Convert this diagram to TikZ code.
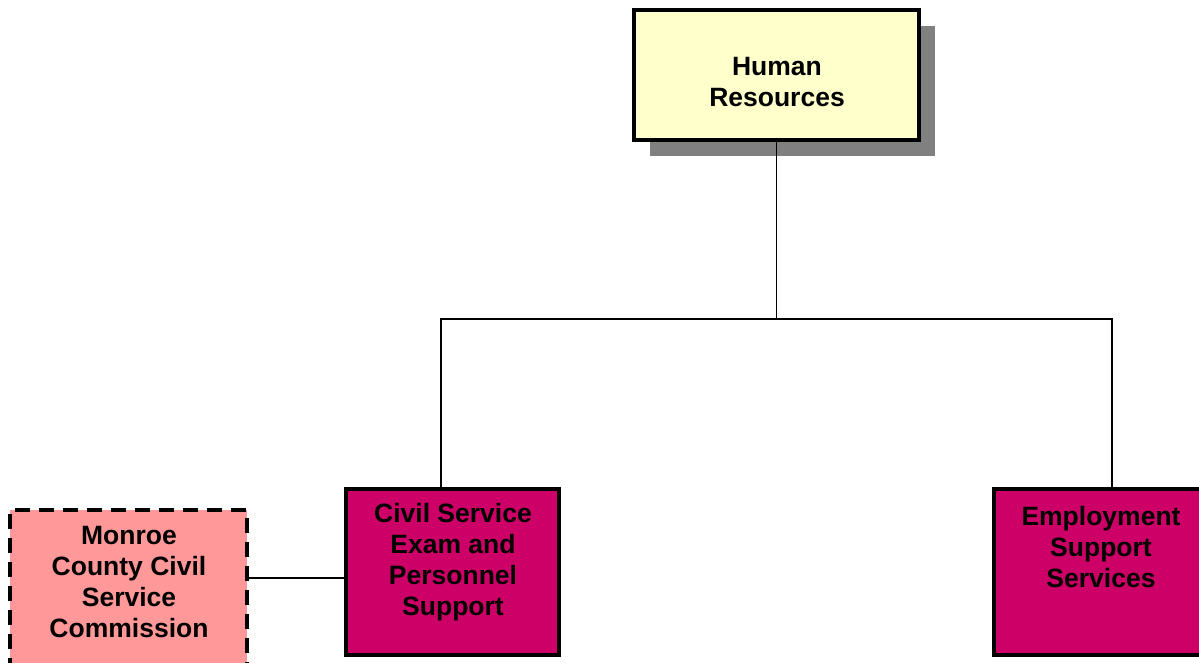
\documentclass[tikz,border=0pt]{standalone}
\usepackage{fontspec}
\setmainfont{Liberation Sans}
\usepackage{xcolor}
\usepackage{tikz}
\usetikzlibrary{positioning,shadows,calc}
\definecolor{hryellow}{HTML}{FFFFCC}
\definecolor{unitpink}{HTML}{CC0066}
\definecolor{boardpink}{HTML}{FF9999}
\definecolor{shadowgray}{HTML}{808080}
\tikzset{
  orgbox/.style={rectangle, draw=black, line width=4pt, inner sep=0pt, outer sep=0pt, anchor=north west},
  lbl/.style={align=center, inner sep=0pt, font=\bfseries\fontsize{26.5}{31}\selectfont},
  link/.style={line width=1.5pt, draw=black}
}
\begin{document}
\begin{tikzpicture}[
  x=1pt, y=-1pt,
  hrbox/.style={orgbox, fill=hryellow, minimum width=285pt, minimum height=130pt,
                drop shadow={shadow xshift=16pt, shadow yshift=-16pt, fill=shadowgray, opacity=1}},
  unitbox/.style={orgbox, fill=unitpink, minimum width=213pt, minimum height=166pt},
  boardbox/.style={orgbox, fill=boardpink, dash pattern=on 15pt off 9pt,
                   minimum width=237pt, minimum height=170pt}
]
\useasboundingbox (0,0) rectangle (1199,662);
\clip (0,0) rectangle (1199,662);
% boxes
\node[hrbox] (hr) at (634,10) {};
\node[unitbox] (civ) at (346,489) {};
\node[unitbox, minimum width=236pt] (emp) at (994,489) {};
\node[boardbox] (board) at (10,510) {};
% texts
\node[lbl] (hrtxt) at (777,82) {Human\\Resources};
\node[lbl] (civtxt) at (453,562) {Civil Service\\Exam and\\Personnel\\Support};
\node[lbl] (emptxt) at (1101,547) {Employment\\Support\\Services};
\node[lbl] (boardtxt) at (129,582) {Monroe\\County Civil\\Service\\Commission};
% connectors
\coordinate (bus) at (hr.south |- 0,319);
\coordinate (tie) at (296,578);
\draw[link] (hr.south) -- (bus);
\draw[link] (bus) -| (emp.north);
\draw[link] (bus) -| ([xshift=-11.5pt]civ.north);
\draw[link] (board.east |- tie) -- (civ.west |- tie);
\end{tikzpicture}
\end{document}
